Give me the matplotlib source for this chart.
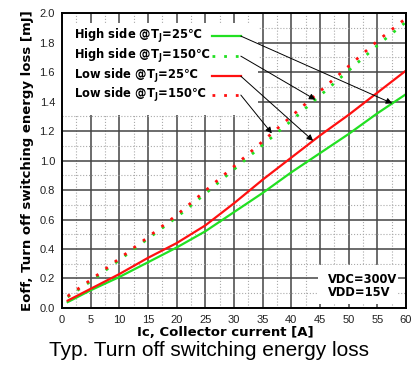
import numpy as np
import matplotlib
matplotlib.use("Agg")
import matplotlib.pyplot as plt

# ── data ────────────────────────────────────────────────────
ic = [1, 5, 10, 15, 20, 25, 30, 35, 40, 45, 50, 55, 60]
high_25 = [0.04, 0.12, 0.21, 0.31, 0.41, 0.52, 0.65, 0.78, 0.92, 1.05, 1.18, 1.32, 1.45]
high_150 = [0.075, 0.18, 0.325, 0.47, 0.615, 0.775, 0.94, 1.105, 1.27, 1.44, 1.61, 1.78, 1.94]
low_25 = [0.05, 0.13, 0.23, 0.34, 0.44, 0.56, 0.71, 0.87, 1.02, 1.17, 1.31, 1.46, 1.61]
low_150 = [0.08, 0.19, 0.335, 0.48, 0.63, 0.795, 0.96, 1.13, 1.30, 1.47, 1.64, 1.81, 1.965]

labels = ["High side @T$_\\mathregular{J}$=25℃", "High side @T$_\\mathregular{J}$=150℃",
          "Low side @T$_\\mathregular{J}$=25℃", "Low side @T$_\\mathregular{J}$=150℃"]
arrow_x = [57.6, 44.2, 43.8, 36.6]   # where each legend arrow hits its curve

GREEN = "#22e022"
RED = "#ff1010"
DOT = (0, (1.0, 3.2))

fig = plt.figure(figsize=(4.13, 3.74), dpi=100)
ax = fig.add_axes([0.150, 0.1765, 0.833, 0.7885])

ax.set_xlim(0, 60)
ax.set_ylim(0, 2.0)

# grid drawn by hand so the white boxes can hide it
for x in np.arange(0, 60.1, 5):
    ax.axvline(x, color="#444444", lw=1.1, zorder=0.5)
for x in np.arange(2.5, 60, 5):
    ax.axvline(x, color="#aaaaaa", lw=0.8, ls=":", zorder=0.5)
for y in np.arange(0, 2.01, 0.2):
    ax.axhline(y, color="#444444", lw=1.1, zorder=0.5)
for y in np.arange(0.1, 2.0, 0.2):
    ax.axhline(y, color="#aaaaaa", lw=0.8, ls=":", zorder=0.5)

series = [
    (high_25, GREEN, "-"),
    (high_150, GREEN, DOT),
    (low_25, RED, "-"),
    (low_150, RED, DOT),
]
for vals, col, ls in series:
    ax.plot(ic, vals, color=col, ls=ls, lw=2.0 if ls == DOT else 1.6, zorder=3)

# legend block
ax.add_patch(plt.Rectangle((0, 0.654), 0.57, 0.312, transform=ax.transAxes,
                           facecolor="white", edgecolor="none", zorder=1))
rows_y = [0.922, 0.854, 0.786, 0.722]
for (vals, col, ls), lab, ry, ax_x in zip(series, labels, rows_y, arrow_x):
    ax.text(0.035, ry, lab, transform=ax.transAxes, fontsize=8.3, fontweight="bold",
            va="center", ha="left", family="DejaVu Sans", zorder=4)
    ax.plot([0.436, 0.52], [ry, ry], transform=ax.transAxes, color=col, ls=ls,
            lw=2.0 if ls == DOT else 1.6, zorder=4)
    ax.annotate("", xy=(ax_x, np.interp(ax_x, ic, vals)), xycoords="data",
                xytext=(0.52, ry), textcoords="axes fraction",
                arrowprops=dict(arrowstyle="-|>", color="black", lw=0.7,
                                mutation_scale=9, shrinkA=0, shrinkB=0), zorder=5)

# conditions box
ax.add_patch(plt.Rectangle((0.744, 0.014), 0.233, 0.132, transform=ax.transAxes,
                           facecolor="white", edgecolor="none", zorder=1))
ax.text(0.773, 0.098, "VDC=300V", transform=ax.transAxes, fontsize=8.3,
        fontweight="bold", va="center", family="DejaVu Sans", zorder=4)
ax.text(0.773, 0.052, "VDD=15V", transform=ax.transAxes, fontsize=8.3,
        fontweight="bold", va="center", family="DejaVu Sans", zorder=4)

ax.set_xticks(np.arange(0, 61, 5))
ax.set_yticks(np.arange(0, 2.01, 0.2))
ax.set_yticklabels([f"{v:.1f}" for v in np.arange(0, 2.01, 0.2)])
ax.tick_params(length=0, labelsize=8, pad=5, colors="#222222")
for lab in ax.get_xticklabels() + ax.get_yticklabels():
    lab.set_family("Liberation Sans")
for sp in ax.spines.values():
    sp.set_linewidth(1.4)
    sp.set_zorder(6)

ax.set_xlabel("Ic, Collector current [A]", fontsize=9.5, fontweight="bold",
              family="DejaVu Sans")
ax.xaxis.set_label_coords(0.474, -0.062)
ax.set_ylabel("Eoff, Turn off switching energy loss [mJ]", fontsize=9.5,
              fontweight="bold", family="DejaVu Sans", labelpad=4)

fig.text(0.507, 0.062, "Typ. Turn off switching energy loss", fontsize=15,
         family="Liberation Sans", ha="center", va="center")

fig.savefig("out.png", dpi=100)
